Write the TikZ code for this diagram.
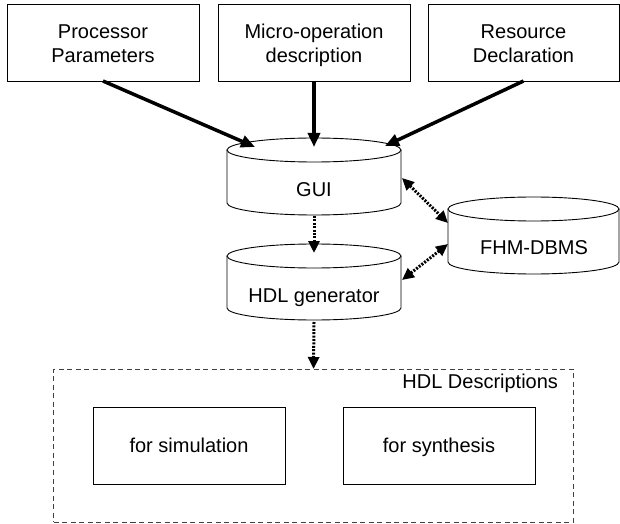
\documentclass[tikz,border=0pt]{standalone}
\usepackage{fontspec}
\setmainfont{Liberation Sans}
\usetikzlibrary{arrows.meta,calc}
\newcommand\drawcyl[5]{%
  \draw[cylline] (#1,#2) ellipse [x radius=#4, y radius=#5];
  \draw[cylline] ({#1-#4},#2) -- ({#1-#4},#3) arc[start angle=180, end angle=360, x radius=#4, y radius=#5] -- ({#1+#4},#2);
}
\tikzset{
  every node/.style={font=\fontsize{20bp}{24bp}\selectfont, inner sep=0pt, outer sep=0pt},
  box/.style={draw, line width=0.9bp, minimum width=192bp, minimum height=77bp, align=center},
  twoline/.style={text height=45.2bp, text depth=4.2bp},
  oneline/.style={text height=14.5bp, text depth=0bp},
  cylline/.style={line width=0.9bp},
  solidarrow/.style={line width=3.5bp, -{Triangle[length=14bp,width=12bp]}},
  dotarrow/.style={line width=3bp, dash pattern=on 2bp off 1.4bp, -{Triangle[length=12bp,width=11bp]}},
  dotboth/.style={line width=3bp, dash pattern=on 2bp off 1.4bp, {Triangle[length=12bp,width=11bp]}-{Triangle[length=12bp,width=11bp]}},
  dashbox/.style={draw=black!75, line width=1bp, dash pattern=on 5bp off 3.5bp, minimum width=519bp, minimum height=153bp},
}
\begin{document}
\begin{tikzpicture}[x=1bp, y=1bp]
  \path[use as bounding box, fill=white] (0,0) rectangle (620,-524);

  % top boxes
  \node[box, twoline] (pp) at (103,-42.5) {Processor\\Parameters};
  \node[box, twoline] (mo) at (314,-42.5) {Micro-operation\\description};
  \node[box, twoline, minimum width=191bp] (rd) at (523.5,-42.5) {Resource\\Declaration};

  % cylinders
  \drawcyl{314}{-150}{-203}{87}{12}
  \drawcyl{314}{-256}{-308}{87}{12}
  \drawcyl{533.5}{-209}{-262}{85.5}{12}
  \node[oneline] (gui) at (314,-189.5) {GUI};
  \node[oneline] (hdlg) at (314,-295) {HDL generator};
  \node[oneline] (fhm) at (534,-247) {FHM-DBMS};

  % connector end points on the cylinders
  \coordinate (guiInA) at (255,-147);
  \coordinate (guiInB) at (314,-147);
  \coordinate (guiInC) at (385,-146);
  \coordinate (guiOut) at (314,-216);
  \coordinate (guiRight) at (402,-178);
  \coordinate (hdlIn) at (314,-253);
  \coordinate (hdlOut) at (314,-322);
  \coordinate (hdlRight) at (402,-280);
  \coordinate (fhmUp) at (448,-223);
  \coordinate (fhmLow) at (448,-244);

  % HDL descriptions
  \node[dashbox] (hdld) at (313.5,-445.5) {};
  \node[anchor=base east] (hdldlabel) at (558,-388) {HDL Descriptions};
  \node[box, oneline] (sim) at (189,-445.5) {for simulation};
  \node[box, oneline] (syn) at (439,-445.5) {for synthesis};

  % connectors
  \draw[solidarrow] (pp.south) -- (guiInA);
  \draw[solidarrow] (mo.south) -- (guiInB);
  \draw[solidarrow] (rd.south) -- (guiInC);
  \draw[dotarrow] (guiOut) -- (hdlIn);
  \draw[dotarrow] (hdlOut) -- (hdld.north);
  \draw[dotboth] (guiRight) -- (fhmUp);
  \draw[dotboth] (hdlRight) -- (fhmLow);
\end{tikzpicture}
\end{document}
